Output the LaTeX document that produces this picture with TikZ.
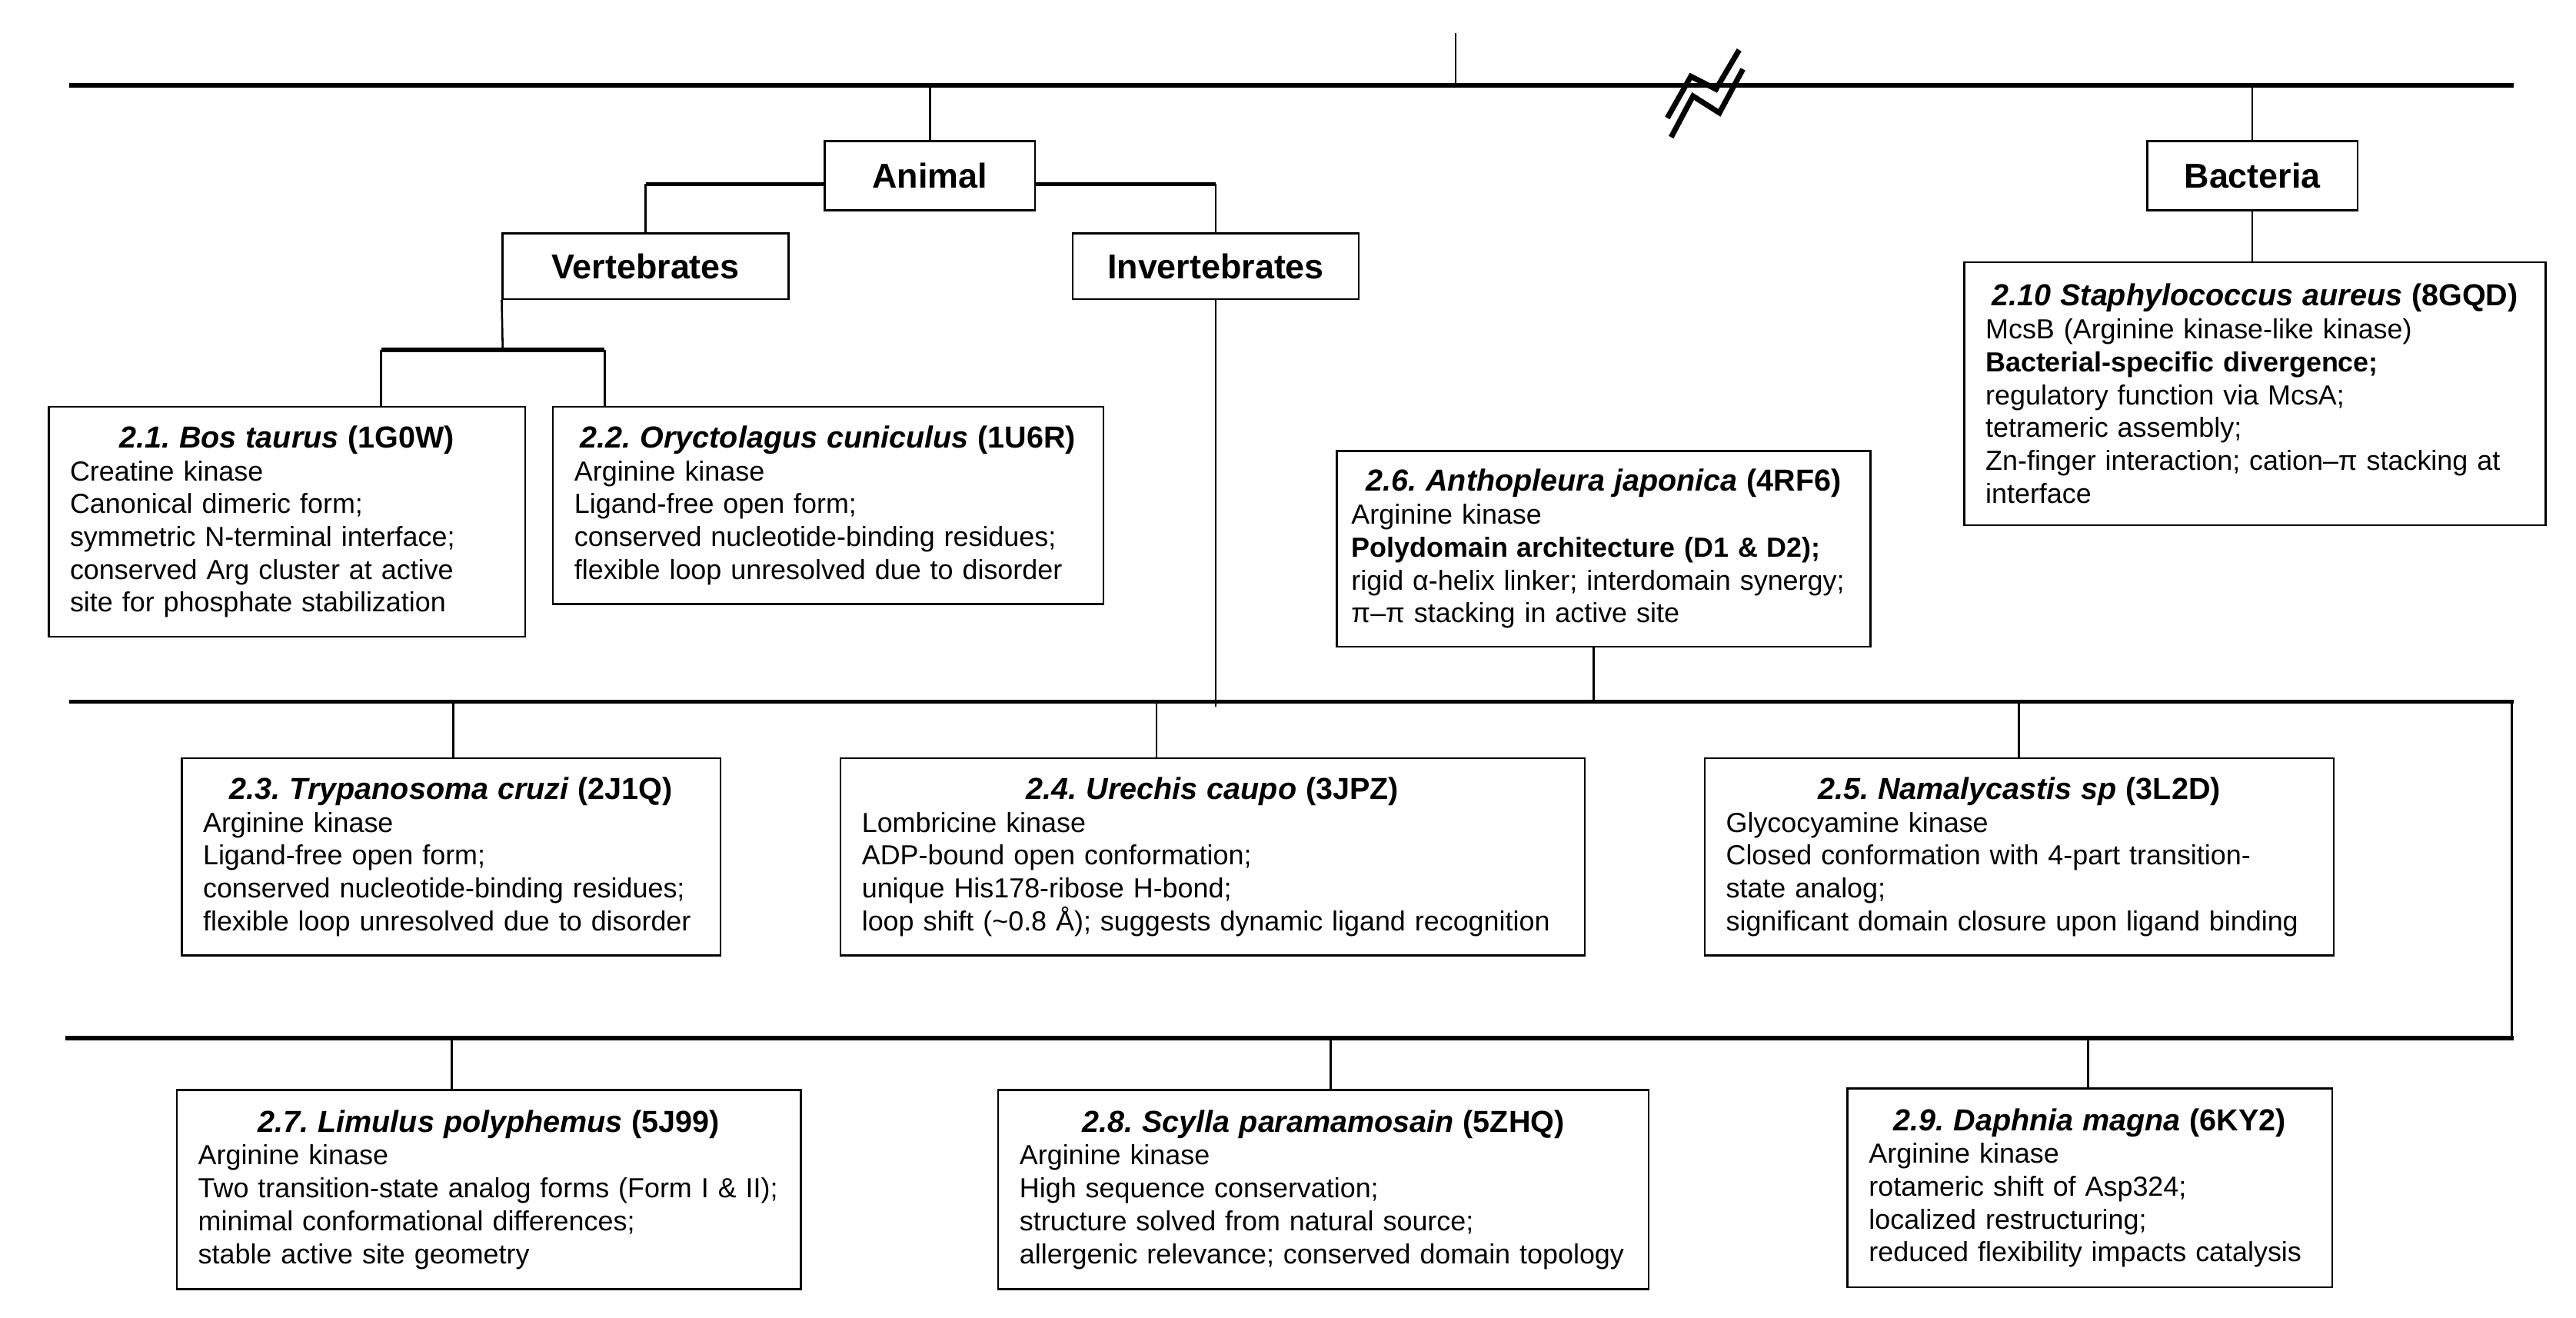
\documentclass[tikz,border=0pt]{standalone}
\usepackage{fontspec}
\setmainfont{Liberation Sans}
\frenchspacing
\newcommand{\bodysize}{\fontsize{16.8}{20}\selectfont\hyphenpenalty=10000}
\newcommand{\headsize}{\fontsize{21}{24}\selectfont}
\newcommand{\boxtitle}[2]{{\centering\fontsize{18.5}{22}\selectfont\bfseries\itshape #1 \upshape(#2)\par}}

\begin{document}
\begin{tikzpicture}[x=1pt,y=-1pt,
  infobox/.style={draw, line width=1.2pt, anchor=north west, inner xsep=13pt, inner ysep=0pt, align=left, font=\bodysize},
  headbox/.style={draw, line width=1.2pt, inner sep=0pt, font=\headsize\bfseries},
  bus/.style={line width=2.6pt},
  link/.style={line width=1.2pt},
  breakmark/.style={line width=3.3pt, line join=miter}]
\fill[white] (0,0) rectangle (1568,802);
\coordinate (root) at (886,20);
\coordinate (busA) at (42,52);
\coordinate (busB) at (1530,52);
\coordinate (busC) at (42,427);
\coordinate (busD) at (1530,427);
\coordinate (busE) at (40,632);
\coordinate (busF) at (1530,632);
\draw[bus] (busA) -- (busB);
\draw[bus] (busC) -- (busD);
\draw[bus] (busE) -- (busF);
\draw[link] (root) -- (root |- busA);
\draw[link] ([xshift=-1pt]busD) -- ([xshift=-1pt]busF);
\draw[breakmark] (1014.9,71.8) -- (1029.2,46.5) -- (1044.5,54.3) -- (1058.6,30.4);
\draw[breakmark] (1017.2,83.5) -- (1030.5,58.5) -- (1046.6,68.7) -- (1060.9,42.1);

\node[headbox, minimum width=128pt, minimum height=42pt] (animal) at (566,107) {Animal};
\node[headbox, minimum width=128pt, minimum height=42pt] (bacteria) at (1371,107) {Bacteria};
\node[headbox, minimum width=174pt, minimum height=40pt] (vert) at (393,162) {Vertebrates};
\node[headbox, minimum width=174pt, minimum height=40pt] (inv) at (740,162) {Invertebrates};

\node[infobox, text width=264pt, minimum height=140pt] (b21) at (29,247) {\boxtitle{2.1. Bos taurus}{1G0W}
Creatine kinase\\ Canonical dimeric form;\\ symmetric N-terminal interface;\\ conserved Arg cluster at active\\ site for phosphate stabilization};
\node[infobox, text width=309pt, minimum height=120pt] (b22) at (336,247) {\boxtitle{2.2. Oryctolagus cuniculus}{1U6R}
Arginine kinase\\ Ligand-free open form;\\ conserved nucleotide-binding residues;\\ flexible loop unresolved due to disorder};
\node[infobox, text width=328pt, minimum height=160pt] (b210) at (1195,159) {\boxtitle{2.10 Staphylococcus aureus}{8GQD}
McsB (Arginine kinase-like kinase)\\ \textbf{Bacterial-specific divergence;}\\ regulatory function via McsA;\\ tetrameric assembly;\\ Zn-finger interaction; cation–π stacking at\\ interface};
\node[infobox, inner xsep=9pt, text width=307pt, minimum height=119pt] (b26) at (813,274) {\boxtitle{2.6. Anthopleura japonica}{4RF6}
Arginine kinase\\ \textbf{Polydomain architecture (D1 \& D2);}\\ rigid α-helix linker; interdomain synergy;\\ π–π stacking in active site};
\node[infobox, text width=302pt, minimum height=120pt] (b23) at (110,461) {\boxtitle{2.3. Trypanosoma cruzi}{2J1Q}
Arginine kinase\\ Ligand-free open form;\\ conserved nucleotide-binding residues;\\ flexible loop unresolved due to disorder};
\node[infobox, text width=427pt, minimum height=120pt] (b24) at (511,461) {\boxtitle{2.4. Urechis caupo}{3JPZ}
Lombricine kinase\\ ADP-bound open conformation;\\ unique His178-ribose H-bond;\\ loop shift (\textasciitilde0.8 Å); suggests dynamic ligand recognition};
\node[infobox, text width=357pt, minimum height=120pt] (b25) at (1037,461) {\boxtitle{2.5. Namalycastis sp}{3L2D}
Glycocyamine kinase\\ Closed conformation with 4-part transition-\\ state analog;\\ significant domain closure upon ligand binding};
\node[infobox, text width=354pt, minimum height=121pt] (b27) at (107,663) {\boxtitle{2.7. Limulus polyphemus}{5J99}
Arginine kinase\\ Two transition-state analog forms (Form I \& II);\\ minimal conformational differences;\\ stable active site geometry};
\node[infobox, text width=370pt, minimum height=121pt] (b28) at (607,663) {\boxtitle{2.8. Scylla paramamosain}{5ZHQ}
Arginine kinase\\ High sequence conservation;\\ structure solved from natural source;\\ allergenic relevance; conserved domain topology};
\node[infobox, text width=269pt, minimum height=121pt] (b29) at (1124,662) {\boxtitle{2.9. Daphnia magna}{6KY2}
Arginine kinase\\ rotameric shift of Asp324;\\ localized restructuring;\\ reduced flexibility impacts catalysis};

\draw[link] (animal.north) -- (animal.north |- busA);
\draw[link] (bacteria.north) -- (bacteria.north |- busA);
\draw[link] (bacteria.south) -- (bacteria.south |- b210.north);
\coordinate (al) at (393,112);
\coordinate (ar) at (740,112);
\draw[bus] (al) -- (al -| animal.west);
\draw[bus] (ar -| animal.east) -- (ar);
\draw[link] (al) -- (al |- vert.north);
\draw[link] (ar) -- (ar |- inv.north);
\coordinate (vj) at (306,213);
\coordinate (v21) at (232,213);
\coordinate (v22) at (368,213);
\draw[link] (vert.south west) -- (vj);
\draw[bus] (v21) -- (v22);
\draw[link] (v21) -- (v21 |- b21.north);
\draw[link] (v22) -- (v22 |- b22.north);
\draw[link] (inv.south) -- ([yshift=-3pt]inv.south |- busC);
\coordinate (c26) at (970,427);
\draw[link] (c26 |- b26.south) -- (c26);
\foreach \x/\b in {276/b23, 704/b24, 1229/b25}
  \draw[link] (\x,427) -- (\x,427 |- \b.north);
\foreach \x/\b in {275/b27, 810/b28, 1271/b29}
  \draw[link] (\x,632) -- (\x,632 |- \b.north);
\end{tikzpicture}
\end{document}
